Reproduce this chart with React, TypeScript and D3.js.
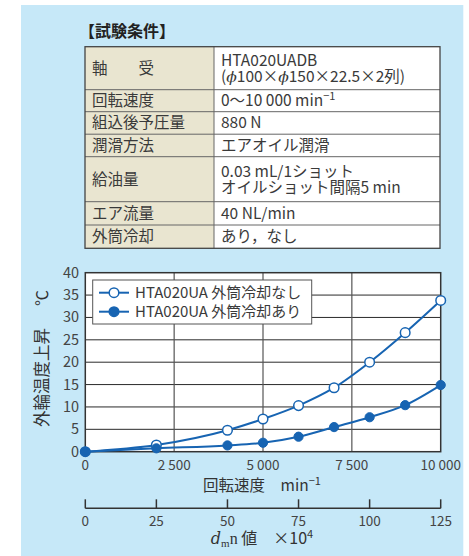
import React from "react";
import * as d3 from "d3";

const tableLabels = ["軸　　受", "回転速度", "組込後予圧量", "潤滑方法", "給油量", "エア流量", "外筒冷却"];
const tableValues: string[][] = [
  ["HTA020UADB", "(φ100×φ150×22.5×2列)"],
  ["0〜10 000 min^-1"],
  ["880 N"],
  ["エアオイル潤滑"],
  ["0.03 mL/1ショット", "オイルショット間隔5 min"],
  ["40 NL/min"],
  ["あり，なし"],
];
const rowUnits = [43, 22, 22.5, 22.5, 45, 23.3, 23.3];

const speeds = [0, 2000, 4000, 5000, 6000, 7000, 8000, 9000, 10000];
const noCooling = [0, 1.5, 4.8, 7.3, 10.3, 14.3, 20.0, 26.6, 33.8];
const withCooling = [0, 0.75, 1.4, 2.0, 3.35, 5.5, 7.7, 10.4, 14.9];
const seriesNames = ["HTA020UA 外筒冷却なし", "HTA020UA 外筒冷却あり"];

const yTicks = [0, 5, 10, 15, 20, 25, 30, 35, 40];
const xTicks = [0, 2500, 5000, 7500, 10000];
const xTickLabels = ["0", "2 500", "5 000", "7 500", "10 000"];
const dmnTicks = [0, 25, 50, 75, 100, 125];

const FONT = "'Noto Sans CJK JP', 'Noto Sans', sans-serif";
const BLUE = "#1764b2";
const TXT = "#3a3a3a";
const TFS = 15.5;

function renderVal(s: string) {
  if (s.includes("^-1")) {
    const base = s.replace("^-1", "");
    return (
      <>
        {base}
        <tspan fontSize={11} dy={-6}>−1</tspan>
      </>
    );
  }
  if (s.includes("φ")) {
    const parts = s.split("φ");
    return parts.map((p, i) => (
      <React.Fragment key={i}>
        {i > 0 && <tspan fontStyle="italic" fontFamily="'DejaVu Serif', serif">ϕ</tspan>}
        {p}
      </React.Fragment>
    ));
  }
  return s;
}

export default function App() {
  const W = 469, H = 556;
  const x0 = 85.3, x1 = 440.7, yTop = 272.7, yBot = 451.7;
  const x = d3.scaleLinear().domain([0, 10000]).range([x0, x1]);
  const y = d3.scaleLinear().domain([0, 40]).range([yBot, yTop]);
  const xd = d3.scaleLinear().domain([0, 125]).range([x0, x1]);

  const line = d3
    .line<number>()
    .x((_, i) => x(speeds[i]))
    .y((v) => y(v))
    .curve(d3.curveMonotoneX);

  const tX = 85, tDiv = 214, tR = 440, tTop = 46.7;
  const rowTops: number[] = [];
  let acc = tTop;
  rowUnits.forEach((h) => {
    rowTops.push(acc);
    acc += h;
  });
  const tBot = acc;

  const axisY2 = 508.3;

  return (
    <svg
      width={W}
      height={H}
      style={{ position: "absolute", left: 0, top: 0 }}
      fontFamily={FONT}
    >
      <rect x={0} y={0} width={W} height={H} fill="#ffffff" />
      <rect x={21} y={5} width={442.3} height={H - 5} fill="#c6e8f8" />

      <text x={79} y={37} fontSize={16} fontWeight="bold" fill="#222">【試験条件】</text>

      <rect x={tX} y={tTop} width={tDiv - tX} height={tBot - tTop} fill="#e9e5d0" />
      <rect x={tDiv} y={tTop} width={tR - tDiv} height={tBot - tTop} fill="#ffffff" />
      {rowTops.slice(1).map((t, i) => (
        <line key={i} x1={tX} x2={tR} y1={t} y2={t} stroke="#666" strokeWidth={1} />
      ))}
      <line x1={tDiv} x2={tDiv} y1={tTop} y2={tBot} stroke="#666" strokeWidth={1} />
      <rect x={tX} y={tTop} width={tR - tX} height={tBot - tTop} fill="none" stroke="#444" strokeWidth={1.3} />
      {tableLabels.map((lab, i) => {
        const cy = rowTops[i] + rowUnits[i] / 2;
        return (
          <text key={"l" + i} x={92} y={cy + 5.5} fontSize={TFS} fill={TXT}>{lab}</text>
        );
      })}
      {tableValues.map((vals, i) => {
        const cy = rowTops[i] + rowUnits[i] / 2;
        if (vals.length === 1) {
          return (
            <text key={"v" + i} x={221} y={cy + 5.5} fontSize={TFS} fill={TXT}>{renderVal(vals[0])}</text>
          );
        }
        return (
          <g key={"v" + i}>
            <text x={221} y={cy - 2.5} fontSize={TFS} fill={TXT}>{renderVal(vals[0])}</text>
            <text x={221} y={cy + 13.5} fontSize={TFS} fill={TXT}>{renderVal(vals[1])}</text>
          </g>
        );
      })}

      <rect x={x0} y={yTop} width={x1 - x0} height={yBot - yTop} fill="#ffffff" />
      {yTicks.slice(1, -1).map((t) => (
        <line key={"gy" + t} x1={x0} x2={x1} y1={y(t)} y2={y(t)} stroke="#2a2a2a" strokeWidth={1} />
      ))}
      {xTicks.slice(1, -1).map((t) => (
        <line key={"gx" + t} x1={x(t)} x2={x(t)} y1={yTop} y2={yBot} stroke="#555" strokeWidth={1.2} />
      ))}
      <rect x={x0} y={yTop} width={x1 - x0} height={yBot - yTop} fill="none" stroke="#333" strokeWidth={1.5} />

      {yTicks.map((t) => (
        <text key={"yt" + t} x={79} y={y(t) + 5} fontSize={14.5} fill="#444" textAnchor="end">{t}</text>
      ))}
      <g transform="translate(48,427) rotate(-90)">
        <text x={0} y={0} fontSize={16.5} fill="#333">外輪温度上昇</text>
      </g>
      <g transform="translate(48,306) rotate(-90)">
        <text x={0} y={0} fontSize={16} fill="#333">℃</text>
      </g>

      {xTicks.map((t, i) => (
        <text key={"xt" + t} x={x(t)} y={470} fontSize={13.5} fill="#444" textAnchor="middle">{xTickLabels[i]}</text>
      ))}
      <text x={262} y={491} fontSize={15.5} fill="#333" textAnchor="middle">
        回転速度　min<tspan fontSize={11} dy={-6}>−1</tspan>
      </text>

      <line x1={x0} x2={x1} y1={axisY2} y2={axisY2} stroke="#333" strokeWidth={1.5} />
      {dmnTicks.map((t) => (
        <g key={"d" + t}>
          <line x1={xd(t)} x2={xd(t)} y1={axisY2} y2={axisY2 - 9} stroke="#333" strokeWidth={1.5} />
          <text x={xd(t)} y={526} fontSize={13.5} fill="#444" textAnchor="middle">{t}</text>
        </g>
      ))}
      <text x={262} y={544} fontSize={16} fill="#333" textAnchor="middle">
        <tspan fontFamily="'DejaVu Serif', 'Liberation Serif', serif" fontStyle="italic">d</tspan>
        <tspan fontFamily="'Liberation Serif', serif" fontSize={11} dy={3}>m</tspan>
        <tspan fontFamily="'Liberation Serif', serif" dy={-3}>n</tspan>
        <tspan> 値　×10</tspan>
        <tspan fontSize={11} dy={-6}>4</tspan>
      </text>

      <path d={line(noCooling) || ""} fill="none" stroke={BLUE} strokeWidth={2} />
      <path d={line(withCooling) || ""} fill="none" stroke={BLUE} strokeWidth={2} />
      {noCooling.map((v, i) => (
        <circle key={"o" + i} cx={x(speeds[i])} cy={y(v)} r={4.8} fill="#fff" stroke={BLUE} strokeWidth={1.5} />
      ))}
      {withCooling.map((v, i) => (
        <circle key={"f" + i} cx={x(speeds[i])} cy={y(v)} r={4.6} fill={BLUE} stroke={BLUE} strokeWidth={1} />
      ))}

      <rect x={92.7} y={280} width={219} height={44} fill="#fff" stroke="#555" strokeWidth={1} />
      {seriesNames.map((n, i) => {
        const ly = 292.7 + i * 19;
        return (
          <g key={"lg" + i}>
            <line x1={99} x2={129} y1={ly} y2={ly} stroke={BLUE} strokeWidth={2} />
            <circle cx={114} cy={ly} r={4.8} fill={i === 0 ? "#fff" : BLUE} stroke={BLUE} strokeWidth={1.5} />
            <text x={135} y={ly + 5.5} fontSize={15} fill={TXT}>{n}</text>
          </g>
        );
      })}
    </svg>
  );
}
